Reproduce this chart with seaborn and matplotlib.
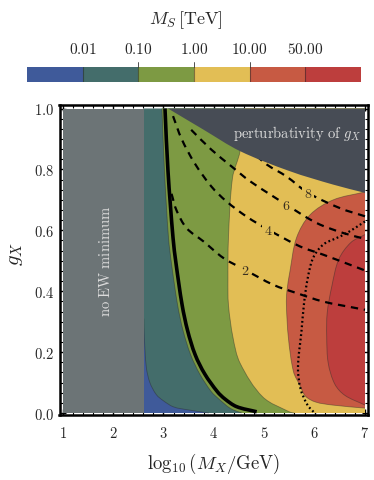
import numpy as np
import matplotlib
matplotlib.use("Agg")
import matplotlib.pyplot as plt
import seaborn as sns
from matplotlib.colors import ListedColormap
from matplotlib.ticker import MultipleLocator
from matplotlib.path import Path
from matplotlib.patches import PathPatch

# ---------------- data ----------------
level_labels = ["0.01", "0.10", "1.00", "10.00", "50.00"]
level_colors = ["#3F5A9A", "#446D6B", "#7D9A43", "#E2BE55", "#C75A43", "#BD3E3D"]

x_ticks = [1, 2, 3, 4, 5, 6, 7]
x_tick_labels = ["1", "2", "3", "4", "5", "6", "7"]
g_ticks = [0.0, 0.2, 0.4, 0.6, 0.8, 1.0]
g_tick_labels = ["0.0", "0.2", "0.4", "0.6", "0.8", "1.0"]

no_ew_edge = 2.61  # log10(MX) below which there is no EW minimum

# contour boundaries of M_S (x = log10 MX, g = g_X)
b001_x = [2.61, 2.62, 2.66, 2.73, 2.86, 3.00, 3.20, 3.50, 3.90]
b001_g = [0.31, 0.25, 0.15, 0.10, 0.06, 0.04, 0.02, 0.01, 0.00]

b01_x = [2.97, 3.02, 3.10, 3.16, 3.28, 3.39, 3.54, 3.72, 3.95, 4.10, 4.33, 4.55]
b01_g = [1.00, 0.794, 0.575, 0.49, 0.355, 0.27, 0.191, 0.128, 0.070, 0.046, 0.015, 0.00]

b1_x = [4.60, 4.52, 4.37, 4.29, 4.28, 4.29, 4.38, 4.52, 4.97, 5.51, 5.60]
b1_g = [1.00, 0.86, 0.772, 0.575, 0.4375, 0.355, 0.248, 0.164, 0.053, 0.003, 0.00]

b10_x = [7.00, 6.37, 5.91, 5.64, 5.51, 5.45, 5.44, 5.48, 5.58, 5.71, 5.82, 6.02, 6.36, 7.00]
b10_g = [0.726, 0.70, 0.651, 0.575, 0.465, 0.40, 0.355, 0.246, 0.136, 0.09, 0.055, 0.036, 0.026, 0.016]

b50_x = [7.00, 6.72, 6.48, 6.34, 6.25, 6.24, 6.27, 6.40, 6.60, 7.00]
b50_g = [0.586, 0.560, 0.505, 0.415, 0.329, 0.25, 0.164, 0.095, 0.058, 0.026]

# perturbativity limit of g_X
pert_x = [3.09, 3.79, 4.52, 5.51, 6.37, 7.00]
pert_g = [1.00, 0.931, 0.86, 0.794, 0.75, 0.723]

# thick black curve
black_x = [3.03, 3.09, 3.19, 3.25, 3.37, 3.48, 3.63, 3.82, 4.07, 4.22, 4.45, 4.85]
black_g = [1.00, 0.794, 0.575, 0.49, 0.355, 0.27, 0.191, 0.128, 0.070, 0.046, 0.021, 0.004]

# dotted curve
dot_x = [7.00, 6.64, 6.44, 6.17, 5.97, 5.86, 5.79, 5.74, 5.67, 5.72, 5.86, 6.00]
dot_g = [0.629, 0.591, 0.575, 0.553, 0.509, 0.44, 0.36, 0.27, 0.15, 0.08, 0.026, 0.00]

# dashed labelled contours
dash2_x = [3.16, 3.26, 3.46, 3.79, 4.19, 4.62, 5.18, 5.64, 6.17, 6.84, 7.00]
dash2_g = [0.72, 0.665, 0.607, 0.564, 0.509, 0.47, 0.421, 0.394, 0.366, 0.344, 0.339]
dash4_x = [3.19, 3.36, 3.62, 3.95, 4.25, 4.65, 5.08, 5.71, 6.17, 6.70, 7.00]
dash4_g = [0.975, 0.90, 0.82, 0.744, 0.695, 0.645, 0.602, 0.547, 0.52, 0.487, 0.468]
dash6_x = [3.55, 3.95, 4.35, 4.72, 5.44, 6.04, 6.57, 7.00]
dash6_g = [0.93, 0.865, 0.81, 0.761, 0.684, 0.624, 0.591, 0.572]
dash8_x = [4.85, 5.05, 5.44, 5.87, 6.50, 7.00]
dash8_g = [0.845, 0.816, 0.777, 0.723, 0.673, 0.646]

dash_labels = ["2", "4", "6", "8"]
dash_label_x = [4.62, 5.08, 5.44, 5.87]
dash_label_g = [0.47, 0.602, 0.684, 0.723]


# ---------------- helpers: smooth Bezier rendering through the read points ----------------
def smooth_segments(xs, ys):
    """Cubic-Bezier vertices/codes passing through every read point (chord-length Catmull-Rom)."""
    P = np.column_stack([xs, ys]).astype(float)
    scale = np.array([1.0, 6.0])  # g axis is visually ~6x stretched vs x
    d = np.sqrt((((P[1:] - P[:-1]) * scale) ** 2).sum(axis=1))
    d[d == 0] = 1e-9
    t = np.concatenate([[0], np.cumsum(d)])
    n = len(P)
    M = np.zeros_like(P)
    for i in range(n):
        if i == 0:
            M[i] = (P[1] - P[0]) / (t[1] - t[0])
        elif i == n - 1:
            M[i] = (P[-1] - P[-2]) / (t[-1] - t[-2])
        else:
            M[i] = (P[i + 1] - P[i - 1]) / (t[i + 1] - t[i - 1])
    verts, codes = [tuple(P[0])], [Path.MOVETO]
    for i in range(n - 1):
        h = t[i + 1] - t[i]
        verts += [tuple(P[i] + M[i] * h / 3), tuple(P[i + 1] - M[i + 1] * h / 3), tuple(P[i + 1])]
        codes += [Path.CURVE4] * 3
    return verts, codes


def smooth_line(ax, xs, ys, **kw):
    v, c = smooth_segments(xs, ys)
    ax.add_patch(PathPatch(Path(v, c), fill=False, **kw))


def smooth_fill(ax, xs, ys, pre=(), post=(), **kw):
    v, c = smooth_segments(xs, ys)
    if pre:
        verts = list(pre) + v
        codes = [Path.MOVETO] + [Path.LINETO] * len(pre) + c[1:]
    else:
        verts = list(v)
        codes = list(c)
    verts += list(post)
    codes += [Path.LINETO] * len(post)
    verts.append(verts[0])
    codes.append(Path.CLOSEPOLY)
    ax.add_patch(PathPatch(Path(verts, codes), lw=0, **kw))


# ---------------- style ----------------
sns.set_theme(style="ticks")
plt.rcParams["font.family"] = ["DejaVu Serif"]
plt.rcParams["mathtext.fontset"] = "cm"

W, H = 374, 481
fig = plt.figure(figsize=(W / 100, H / 100), dpi=100)


def fx(px):
    return px / W


def fy(py):
    return 1 - py / H


# ---------------- main axes ----------------
ax = fig.add_axes([fx(59.5), fy(416), fx(367.5) - fx(59.5), fy(105.5) - fy(416)])
XMIN, XMAX = x_ticks[0], x_ticks[-1]
GMIN, GMAX = g_ticks[0], g_ticks[-1]
ax.set_xlim(XMIN - 3.2 / 50.33, XMAX + 2.5 / 50.33)
ax.set_ylim(GMIN - 2.0 / 304.5, GMAX + 4.0 / 304.5)
ax.set_facecolor("white")

# layered fills: each level painted to the right of its lower boundary
ax.fill([no_ew_edge, XMAX, XMAX, no_ew_edge], [GMIN, GMIN, GMAX, GMAX],
        color=level_colors[0], lw=0, zorder=1)
smooth_fill(ax, b001_x, b001_g, pre=[(no_ew_edge, GMAX)],
            post=[(XMAX, GMIN), (XMAX, GMAX)], color=level_colors[1], zorder=1.01)
smooth_fill(ax, b01_x, b01_g, post=[(XMAX, GMIN), (XMAX, GMAX)],
            color=level_colors[2], zorder=1.02)
smooth_fill(ax, b1_x, b1_g, post=[(XMAX, GMIN), (XMAX, GMAX)],
            color=level_colors[3], zorder=1.03)
smooth_fill(ax, b10_x, b10_g, color=level_colors[4], zorder=1.1)
smooth_fill(ax, b50_x, b50_g, color=level_colors[5], zorder=1.2)

# thin contour edges
for bx, bg in [(b001_x, b001_g), (b01_x, b01_g), (b1_x, b1_g),
               (b10_x, b10_g), (b50_x, b50_g)]:
    smooth_line(ax, bx, bg, edgecolor="#2a2a2a", lw=0.6, alpha=0.45, zorder=2)

# curves
smooth_line(ax, black_x, black_g, edgecolor="black", lw=2.6, zorder=3, capstyle="butt")
smooth_line(ax, dot_x, dot_g, edgecolor="black", lw=1.6, ls=(0, (0.8, 1.2)), zorder=3)
for dx, dg in [(dash2_x, dash2_g), (dash4_x, dash4_g), (dash6_x, dash6_g), (dash8_x, dash8_g)]:
    smooth_line(ax, dx, dg, edgecolor="black", lw=1.6, ls=(0, (3.3, 2.6)), zorder=3)
for lab, lx, lg in zip(dash_labels, dash_label_x, dash_label_g):
    ax.text(lx, lg, "$" + lab + "$", fontsize=10, color="#3a3020", ha="center", va="center",
            zorder=3.5, bbox=dict(boxstyle="square,pad=0.12", fc=level_colors[3], ec="none"))

# excluded regions
smooth_fill(ax, pert_x, pert_g, post=[(XMAX, GMAX)], color="#474C55", zorder=4)
ax.fill([XMIN, no_ew_edge, no_ew_edge, XMIN], [GMIN, GMIN, GMAX, GMAX],
        color="#6C7476", lw=0, zorder=4)

ax.text(1.84, 0.50, r"$\mathrm{no\ EW\ minimum}$", rotation=90, color="#dcdcdc",
        fontsize=10.5, ha="center", va="center", zorder=5)
ax.text(6.92, 0.922, r"$\mathrm{perturbativity\ of\ }g_X$", color="#dcdcdc",
        fontsize=10.5, ha="right", va="center", zorder=5)

# axes styling
ax.set_xticks(x_ticks)
ax.set_xticklabels(["$" + s + "$" for s in x_tick_labels], fontsize=10.5)
ax.set_yticks(g_ticks)
ax.set_yticklabels(["$" + s + "$" for s in g_tick_labels], fontsize=10.5)
ax.xaxis.set_minor_locator(MultipleLocator(0.2))
ax.yaxis.set_minor_locator(MultipleLocator(0.2 / 6))
ax.tick_params(which="both", direction="in", top=True, right=True, color="black")
ax.tick_params(which="major", length=4, width=1.0)
ax.tick_params(which="minor", length=2, width=0.8)
ax.tick_params(axis="x", pad=7)
ax.tick_params(axis="y", pad=4)
for s in ax.spines.values():
    s.set_linewidth(1.8)
    s.set_color("black")
    s.set_zorder(10)

ax.set_xlabel(r"$\log_{10}(M_X/\mathrm{GeV})$", fontsize=13.5)
ax.xaxis.set_label_coords((214 - 59.5) / 308, (416 - 452) / 310.5)
ax.set_ylabel(r"$g_X$", fontsize=15, rotation=90)
ax.yaxis.set_label_coords((25 - 59.5) / 308, (416 - 254) / 310.5)

# ---------------- colour bar (seaborn heatmap) ----------------
cax = fig.add_axes([fx(27.3), fy(83), fx(360.7) - fx(27.3), fy(68) - fy(83)])
sns.heatmap(np.arange(len(level_colors)).reshape(1, -1), ax=cax,
            cmap=ListedColormap(level_colors), cbar=False,
            xticklabels=False, yticklabels=False, linewidths=0)
cax.set_xticks(range(1, len(level_labels) + 1))
cax.set_xticklabels(["$" + s + "$" for s in level_labels], fontsize=11)
cax.xaxis.tick_top()
cax.tick_params(axis="x", length=0, pad=8)
cax.tick_params(axis="y", length=0)
for k in range(1, len(level_labels) + 1):
    cax.plot([k, k], [0, 1], color="#222222", lw=0.8, alpha=0.5)
for k in [2, 3, 4]:
    cax.plot([k, k], [0, -0.35], color="#333333", lw=0.6, clip_on=False)
for s in cax.spines.values():
    s.set_visible(False)

fig.text(fx(186), fy(20), r"$M_S\,[\mathrm{TeV}]$", fontsize=13, ha="center", va="center")

fig.savefig("out.png", dpi=100)
